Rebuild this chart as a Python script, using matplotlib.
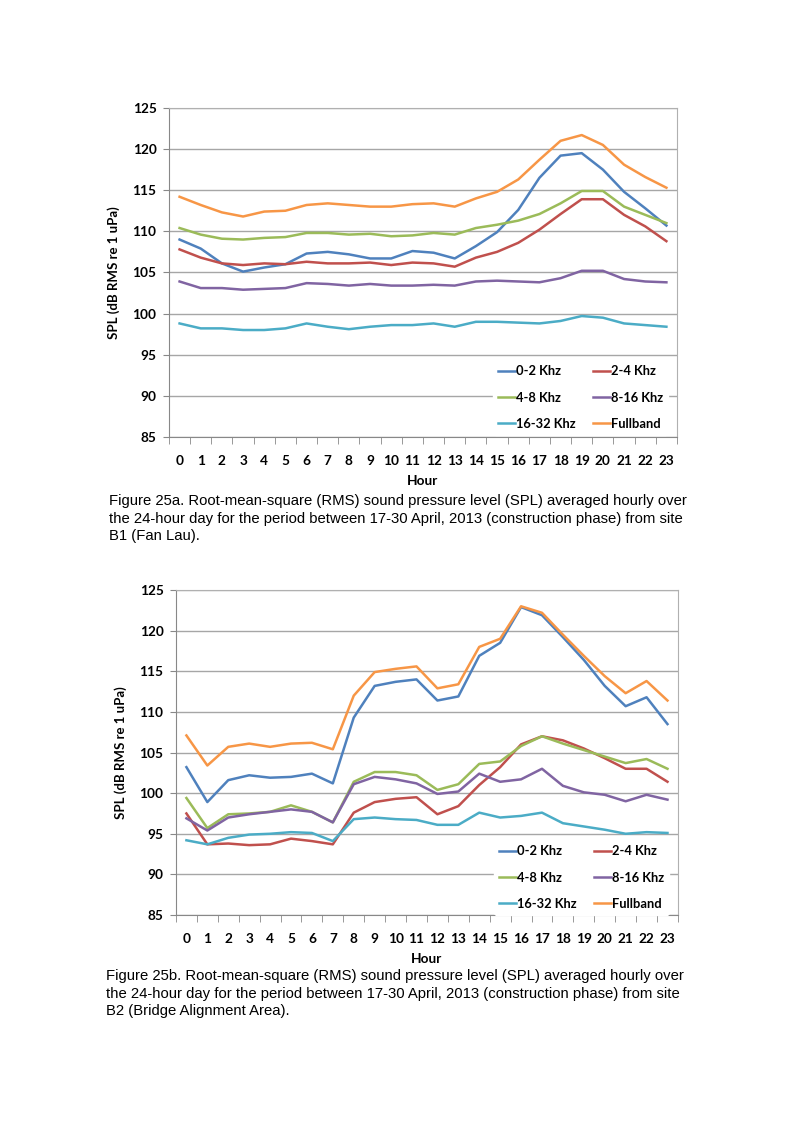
import matplotlib
matplotlib.use('Agg')
from matplotlib import pyplot as plt
from matplotlib.ticker import MultipleLocator

hours = list(range(24))
labels = ['0-2 Khz', '2-4 Khz', '4-8 Khz', '8-16 Khz', '16-32 Khz', 'Fullband']
colors = ['#4F81BD', '#C0504D', '#9BBB59', '#8064A2', '#4BACC6', '#F79646']

# Figure 25a - site B1 (Fan Lau)
a_0_2 = [109.0, 107.9, 106.1, 105.1, 105.6, 106.0, 107.3, 107.5, 107.2, 106.7, 106.7, 107.6,
         107.4, 106.7, 108.2, 109.9, 112.6, 116.5, 119.2, 119.5, 117.5, 114.8, 112.8, 110.7]
a_2_4 = [107.8, 106.8, 106.1, 105.9, 106.1, 106.0, 106.3, 106.1, 106.1, 106.2, 105.9, 106.2,
         106.1, 105.7, 106.8, 107.5, 108.6, 110.2, 112.1, 113.9, 113.9, 112.0, 110.6, 108.8]
a_4_8 = [110.4, 109.6, 109.1, 109.0, 109.2, 109.3, 109.8, 109.8, 109.6, 109.7, 109.4, 109.5,
         109.8, 109.6, 110.4, 110.8, 111.3, 112.1, 113.4, 114.9, 114.9, 113.0, 112.0, 111.0]
a_8_16 = [103.9, 103.1, 103.1, 102.9, 103.0, 103.1, 103.7, 103.6, 103.4, 103.6, 103.4, 103.4,
          103.5, 103.4, 103.9, 104.0, 103.9, 103.8, 104.3, 105.2, 105.2, 104.2, 103.9, 103.8]
a_16_32 = [98.8, 98.2, 98.2, 98.0, 98.0, 98.2, 98.8, 98.4, 98.1, 98.4, 98.6, 98.6,
           98.8, 98.4, 99.0, 99.0, 98.9, 98.8, 99.1, 99.7, 99.5, 98.8, 98.6, 98.4]
a_full = [114.2, 113.2, 112.3, 111.8, 112.4, 112.5, 113.2, 113.4, 113.2, 113.0, 113.0, 113.3,
          113.4, 113.0, 114.0, 114.8, 116.3, 118.7, 121.0, 121.7, 120.5, 118.1, 116.6, 115.3]

# Figure 25b - site B2 (Bridge Alignment Area)
b_0_2 = [103.2, 98.9, 101.6, 102.2, 101.9, 102.0, 102.4, 101.2, 109.3, 113.2, 113.7, 114.0,
         111.4, 111.9, 116.9, 118.5, 122.9, 121.9, 119.2, 116.4, 113.2, 110.7, 111.8, 108.5]
b_2_4 = [97.5, 93.7, 93.8, 93.6, 93.7, 94.4, 94.1, 93.7, 97.6, 98.9, 99.3, 99.5,
         97.4, 98.4, 101.0, 103.2, 106.0, 107.0, 106.5, 105.5, 104.3, 103.0, 103.0, 101.4]
b_4_8 = [99.4, 95.7, 97.4, 97.5, 97.7, 98.5, 97.7, 96.4, 101.4, 102.6, 102.6, 102.2,
         100.4, 101.1, 103.6, 103.9, 105.8, 107.0, 106.1, 105.3, 104.5, 103.7, 104.2, 103.0]
b_8_16 = [96.9, 95.4, 97.0, 97.4, 97.7, 98.0, 97.7, 96.4, 101.1, 102.0, 101.7, 101.2,
          99.9, 100.2, 102.4, 101.4, 101.7, 103.0, 100.9, 100.1, 99.8, 99.0, 99.8, 99.2]
b_16_32 = [94.2, 93.7, 94.5, 94.9, 95.0, 95.2, 95.1, 94.1, 96.8, 97.0, 96.8, 96.7,
           96.1, 96.1, 97.6, 97.0, 97.2, 97.6, 96.3, 95.9, 95.5, 95.0, 95.2, 95.1]
b_full = [107.1, 103.4, 105.7, 106.1, 105.7, 106.1, 106.2, 105.4, 112.0, 114.9, 115.3, 115.6,
          112.9, 113.4, 118.0, 119.0, 123.0, 122.2, 119.5, 116.9, 114.4, 112.3, 113.8, 111.4]

caption_a = ("Figure 25a. Root-mean-square (RMS) sound pressure level (SPL) averaged hourly over\n"
             "the 24-hour day for the period between 17-30 April, 2013 (construction phase) from site\n"
             "B1 (Fan Lau).")
caption_b = ("Figure 25b. Root-mean-square (RMS) sound pressure level (SPL) averaged hourly over\n"
             "the 24-hour day for the period between 17-30 April, 2013 (construction phase) from site\n"
             "B2 (Bridge Alignment Area).")

plt.rcParams['font.family'] = ['Lato', 'DejaVu Sans']

fig = plt.figure(figsize=(7.93, 11.23), dpi=100)


def draw_chart(rect, series, xlab_y, leg_y):
    ax = fig.add_axes(rect)
    lines = []
    for values, c, lab in zip(series, colors, labels):
        ln, = ax.plot(hours, values, color=c, lw=1.8, label=lab, solid_joinstyle='round')
        lines.append(ln)
    ax.set_xlim(-0.5, 23.5)
    ax.set_ylim(85, 125)
    ax.yaxis.set_major_locator(MultipleLocator(5))
    ax.set_xticks(hours)
    ax.set_xticks([h - 0.5 for h in hours] + [23.5], minor=True)
    ax.tick_params(axis='x', which='major', length=0, pad=13)
    ax.tick_params(axis='x', which='minor', length=5, color='#888888', direction='out')
    ax.tick_params(axis='y', length=4, color='#888888', pad=5)
    for lab in ax.get_xticklabels() + ax.get_yticklabels():
        lab.set_fontweight('bold')
        lab.set_fontsize(9.8)
    ax.grid(axis='y', color='#a6a6a6', lw=1)
    ax.set_axisbelow(True)
    for side in ['left', 'bottom']:
        ax.spines[side].set_color('#888888')
    for side in ['top', 'right']:
        ax.spines[side].set_color('#b0b0b0')
    ax.set_ylabel('SPL (dB RMS re 1 uPa)', fontsize=9.5, fontweight='bold')
    ax.yaxis.set_label_coords(-0.097, 0.5)
    ax.set_xlabel('Hour', fontsize=9.8, fontweight='bold')
    ax.xaxis.set_label_coords(0.5, xlab_y)
    # legend entries ordered so that the 2-column layout reads row by row
    order = [0, 2, 4, 1, 3, 5]
    leg = ax.legend([lines[i] for i in order], [labels[i] for i in order], ncol=2,
                    loc='lower right', bbox_to_anchor=(0.99, leg_y), frameon=True,
                    prop={'weight': 'bold', 'size': 9.3}, handlelength=1.3,
                    handletextpad=0.05, columnspacing=1.4, labelspacing=1.1,
                    borderaxespad=0.3, borderpad=0.4)
    leg.get_frame().set_edgecolor('white')
    leg.get_frame().set_facecolor('white')
    leg.get_frame().set_alpha(1.0)
    return ax


draw_chart([0.2131, 0.6109, 0.6406, 0.2930],
           [a_0_2, a_2_4, a_4_8, a_8_16, a_16_32, a_full], -0.117, -0.006)
draw_chart([0.2219, 0.1852, 0.6330, 0.2894],
           [b_0_2, b_2_4, b_4_8, b_8_16, b_16_32, b_full], -0.117, -0.012)

fig.text(109 / 793, 1 - 494 / 1123, caption_a, ha='left', va='top', fontsize=10.7,
         family=['Liberation Sans Narrow', 'Liberation Sans'], linespacing=1.32)
fig.text(106 / 793, 1 - 969 / 1123, caption_b, ha='left', va='top', fontsize=10.7,
         family=['Liberation Sans Narrow', 'Liberation Sans'], linespacing=1.32)

fig.savefig('out.png', dpi=100)
